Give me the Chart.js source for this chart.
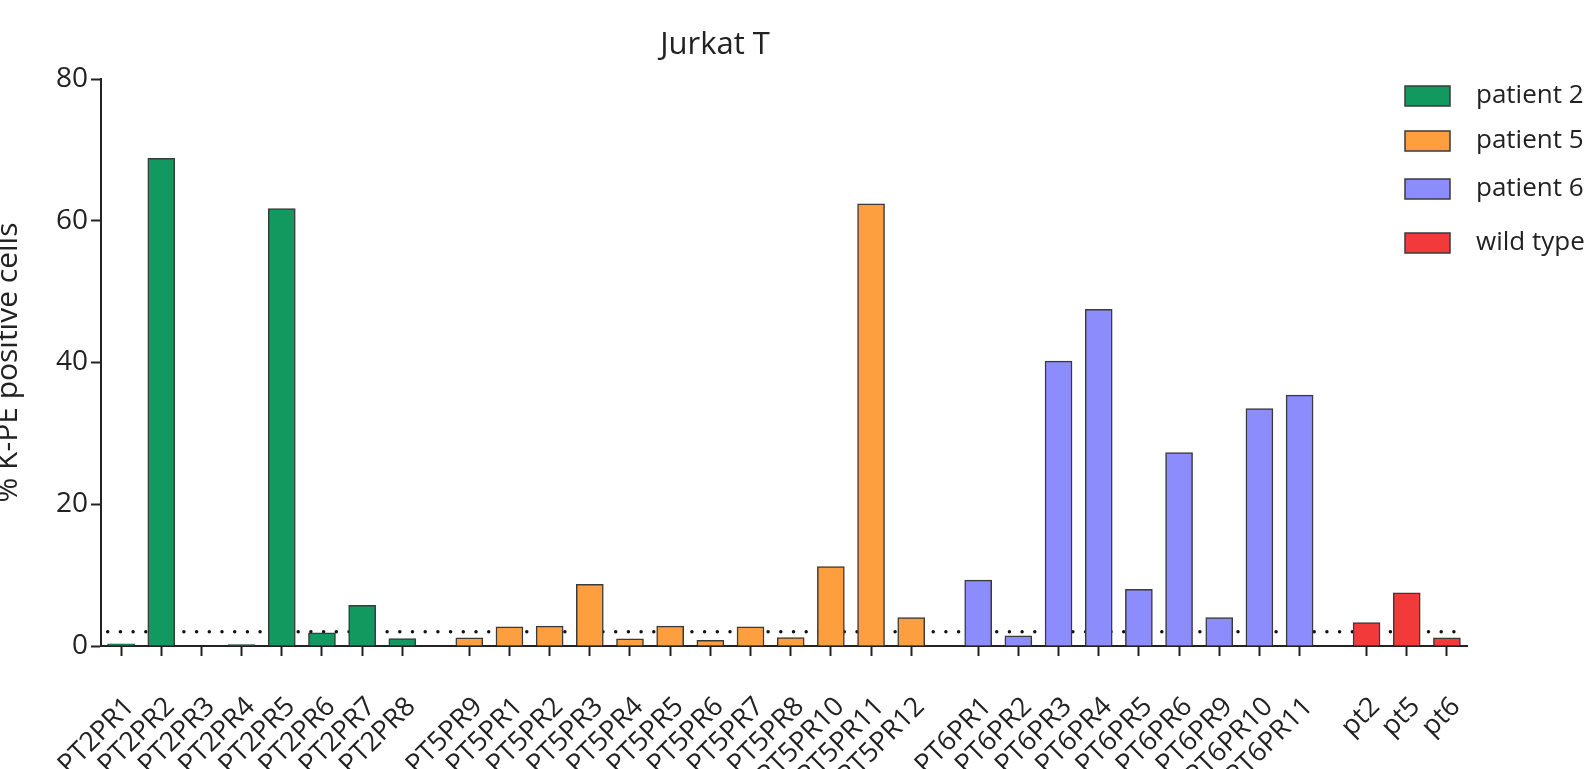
<!DOCTYPE html>
<html><head><meta charset="utf-8">
<script src="https://cdn.jsdelivr.net/npm/chart.js@4/dist/chart.umd.min.js"></script>
<style>html,body{margin:0;padding:0;background:#fff;overflow:hidden}</style>
</head><body>
<canvas id="c" width="1585" height="769"></canvas>
<script>
const chartTitle = 'Jurkat T';
const yAxisTitle = '% K-PE positive cells';
const groupNames = ['patient 2', 'patient 5', 'patient 6', 'wild type'];
const groupColors = ['#11995f', '#fd9f3f', '#8c8cfc', '#f23a3a'];

const patient2Labels = ['PT2PR1','PT2PR2','PT2PR3','PT2PR4','PT2PR5','PT2PR6','PT2PR7','PT2PR8'];
const patient2Values = [0.3, 68.8, 0, 0.2, 61.7, 1.85, 5.75, 1.05];

const patient5Labels = ['PT5PR9','PT5PR1','PT5PR2','PT5PR3','PT5PR4','PT5PR5','PT5PR6','PT5PR7','PT5PR8','PT5PR10','PT5PR11','PT5PR12'];
const patient5Values = [1.15, 2.7, 2.8, 8.7, 1.0, 2.8, 0.8, 2.7, 1.2, 11.2, 62.4, 4.0];

const patient6Labels = ['PT6PR1','PT6PR2','PT6PR3','PT6PR4','PT6PR5','PT6PR6','PT6PR9','PT6PR10','PT6PR11'];
const patient6Values = [9.3, 1.45, 40.2, 47.5, 8.0, 27.3, 4.0, 33.5, 35.4];

const wildTypeLabels = ['pt2','pt5','pt6'];
const wildTypeValues = [3.3, 7.5, 1.15];

const yTickValues = [0, 20, 40, 60, 80];
const thresholdValue = 2;

// Build the category axis: each bar followed by spacer slots, wider gaps between groups
const groups = [[patient2Labels, patient2Values], [patient5Labels, patient5Values],
                [patient6Labels, patient6Values], [wildTypeLabels, wildTypeValues]];
const labels = [''];
const seriesData = groups.map(() => [null]);
function pushSpacer() { labels.push(''); seriesData.forEach(d => d.push(null)); }
groups.forEach(([L, V], g) => {
  if (g > 0) { for (let k = 0; k < 4; k++) pushSpacer(); }
  L.forEach((lab, j) => {
    if (j > 0) { pushSpacer(); pushSpacer(); }
    labels.push(lab);
    seriesData.forEach((d, gi) => d.push(gi === g ? V[j] : null));
  });
});
pushSpacer();

const FONT = "'Open Sans', sans-serif";
const INK = '#222';

const barSets = groupNames.map((name, i) => ({
  type: 'bar',
  label: name,
  data: seriesData[i],
  backgroundColor: groupColors[i],
  borderColor: '#3a3a3a',
  borderWidth: 1.5,
  barThickness: 27,
  grouped: false,
  order: 1
}));

const thresholdSet = {
  type: 'line',
  label: 'threshold',
  data: labels.map(() => thresholdValue),
  borderColor: '#111',
  borderWidth: 3.5,
  borderDash: [0, 12.7],
  borderCapStyle: 'round',
  pointRadius: 0,
  fill: false,
  order: 10
};

const overlayPlugin = {
  id: 'overlay',
  afterDraw(chart) {
    const ctx = chart.ctx;
    ctx.save();
    ctx.fillStyle = INK;
    ctx.font = "31px " + FONT;
    ctx.textAlign = 'center';
    ctx.textBaseline = 'middle';
    ctx.fillText(chartTitle, 715, 45);
    // legend
    const rowsY = [96, 141, 189, 243];
    ctx.font = "26px " + FONT;
    ctx.textAlign = 'left';
    groupNames.forEach((name, i) => {
      ctx.fillStyle = groupColors[i];
      ctx.fillRect(1405, rowsY[i] - 10, 45, 20);
      ctx.strokeStyle = '#3a3a3a';
      ctx.lineWidth = 1.5;
      ctx.strokeRect(1405, rowsY[i] - 10, 45, 20);
      ctx.fillStyle = INK;
      ctx.fillText(name, 1476, rowsY[i]);
    });
    ctx.restore();
  }
};

new Chart(document.getElementById('c'), {
  data: { labels: labels, datasets: [...barSets, thresholdSet] },
  options: {
    responsive: false,
    animation: false,
    layout: { padding: { top: 79, right: 118, left: 0, bottom: 0 } },
    plugins: { legend: { display: false }, title: { display: false }, tooltip: { enabled: false } },
    scales: {
      x: {
        type: 'category',
        offset: true,
        grid: {
          display: true, drawOnChartArea: false, offset: false,
          tickLength: 10, tickWidth: 2,
          tickColor: (c) => (labels[c.index] ? INK : 'rgba(0,0,0,0)')
        },
        border: { display: true, color: INK, width: 2 },
        ticks: {
          autoSkip: false, maxRotation: 45, minRotation: 45,
          padding: 35, labelOffset: 9,
          color: INK, font: { family: FONT, size: 27 }
        },
        afterFit(scale) { scale.height = 123; }
      },
      y: {
        min: 0, max: 80,
        afterBuildTicks(scale) { scale.ticks = yTickValues.map(v => ({ value: v })); },
        grid: { drawOnChartArea: false, tickLength: 10, tickWidth: 2, tickColor: INK },
        border: { display: true, color: INK, width: 2 },
        ticks: { color: INK, padding: 3, font: { family: FONT, size: 28 } },
        title: { display: true, text: yAxisTitle, color: INK, font: { family: FONT, size: 30 }, padding: { top: -10, bottom: 0 } },
        afterFit(scale) { scale.width = 101; }
      }
    }
  },
  plugins: [overlayPlugin]
});
</script>
</body></html>
